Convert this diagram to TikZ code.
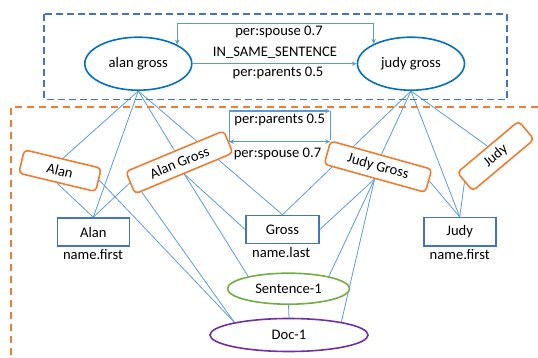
\documentclass[tikz,border=0pt]{standalone}
\usepackage{fontspec}
\setmainfont{Carlito}
\usetikzlibrary{shapes.geometric,arrows.meta,backgrounds,calc}
\definecolor{cblue}{HTML}{4472C4}
\definecolor{dblue}{HTML}{0070C0}
\definecolor{lblue}{HTML}{5B9BD5}
\definecolor{corange}{HTML}{ED7D31}
\definecolor{cgreen}{HTML}{70AD47}
\definecolor{cpurple}{HTML}{7030A0}
\begin{document}
\begin{tikzpicture}[x=1pt,y=-1pt, font=\fontsize{14.6}{17}\selectfont,
 entity/.style={ellipse, draw=dblue, line width=1.6pt, fill=white, minimum width=107pt, minimum height=53pt, inner sep=0pt},
 mention/.style={rectangle, rounded corners=4pt, draw=corange, line width=1.6pt, fill=white, minimum height=24pt, inner sep=0pt},
 namebox/.style={rectangle, draw=cblue, line width=1.6pt, fill=white, minimum width=72pt, minimum height=28pt, inner sep=0pt},
 link/.style={draw=lblue, line width=0.8pt},
 rel/.style={draw=lblue, line width=1.1pt},
 tip/.style={-{Stealth[length=5pt,width=4.5pt]}},
 tips/.style={{Stealth[length=5pt,width=4.5pt]}-{Stealth[length=5pt,width=4.5pt]}},
 lbl/.style={inner sep=0pt},
]
\useasboundingbox (0,0) rectangle (538,358);

% frames
\draw[cblue, line width=1.5pt, dash pattern=on 7pt off 4pt] (44,14) rectangle (507,99.5);
\draw[corange, line width=1.8pt, dash pattern=on 7pt off 5pt] (538,107) -- (11,107) -- (11,358);

% entities
\node[entity] (alan) at (138.3,63.7) {alan gross};
\node[entity] (jg) at (411,63.7) {judy gross};

% relation labels top
\node[lbl] (l1) at (279,31.7) {per:spouse 0.7};
\node[lbl] (l2) at (275,52.3) {IN\_SAME\_SENTENCE};
\node[lbl] (l3) at (278,72.7) {per:parents 0.5};

% mentions
\node[mention, minimum width=79pt, rotate=-13.5] (am) at (60,170.7) {Alan};
\node[mention, minimum width=106pt, rotate=22.6] (agm) at (179.4,162.3) {Alan Gross};
\node[mention, minimum width=105pt, rotate=-15.6] (jgm) at (378,166.7) {Judy Gross};
\node[mention, minimum width=80pt, rotate=40] (jrm) at (495.7,156) {Judy};

% name boxes
\node[namebox] (alanbox) at (93.3,232) {Alan};
\node[namebox, minimum width=73pt] (gross) at (282.5,229.5) {Gross};
\node[namebox] (judybox) at (459.7,231.7) {Judy};
\node[lbl] (nf1) at (93,255) {name.first};
\node[lbl] (nl) at (281.2,252.7) {name.last};
\node[lbl] (nf2) at (459.7,254.5) {name.first};

% sentence, doc
\node[ellipse, draw=cgreen, line width=1.6pt, fill=white, minimum width=122pt, minimum height=31pt, inner sep=0pt] (sent) at (288.5,288.7) {Sentence-1};
\node[ellipse, draw=cpurple, line width=1.6pt, fill=white, minimum width=158pt, minimum height=33pt, inner sep=0pt] (doc) at (289,335) {Doc-1};

% mention-level labels
\node[lbl] (l4) at (279.7,120) {per:parents 0.5};
\node[lbl] (l5) at (277.5,153.5) {per:spouse 0.7};

% top relations
\draw[rel, tips] (alan.26.5) -- ++(0,-21.6) -| (jg.152.5);
\draw[rel, tip] (alan.east) -- (jg.west);

% mention-level relations
\coordinate (ppc) at ($(jgm.north west)+(0,-29)$);
\draw[rel, tip] (agm.east) |- (ppc);
\draw[rel] (ppc) -- (jgm.north west);
\draw[rel, tips] (agm.east) -- (agm.east -| jgm.north west);

\begin{pgfonlayer}{background}
\draw[link] (alan.south) -- (am.north);
\draw[link] (alan.south) -- (alanbox.north);
\draw[link] (alan.south) -- (agm.north);
\draw[link] (alan.south) -- (gross.north);
\draw[link] (jg.south) -- (gross.north);
\draw[link] (jg.south) -- (jgm.north);
\draw[link] (jg.south) -- (judybox.north);
\draw[link] (jg.south) -- (jrm.north);
\draw[link] (am.south) -- (alanbox.north);
\draw[link] (am.east) -- (doc.167);
\draw[link] (agm.west) -- (alanbox.north);
\draw[link] ($(agm.south west)!0.07!(agm.south east)$) -- (doc.167);
\draw[link] (agm.south) -- (gross.west);
\draw[link] (agm.south) -- (sent.163);
\draw[link] (jgm.south) -- (gross.east);
\draw[link] (jgm.south) -- (sent.17);
\draw[link] (jgm.south) -- (doc.14);
\draw[link] (jgm.east) -- (judybox.north);
\draw[link] (jrm.west) -- (judybox.north);
\draw[link] (sent.south) -- (doc.north);
\end{pgfonlayer}
\end{tikzpicture}
\end{document}
